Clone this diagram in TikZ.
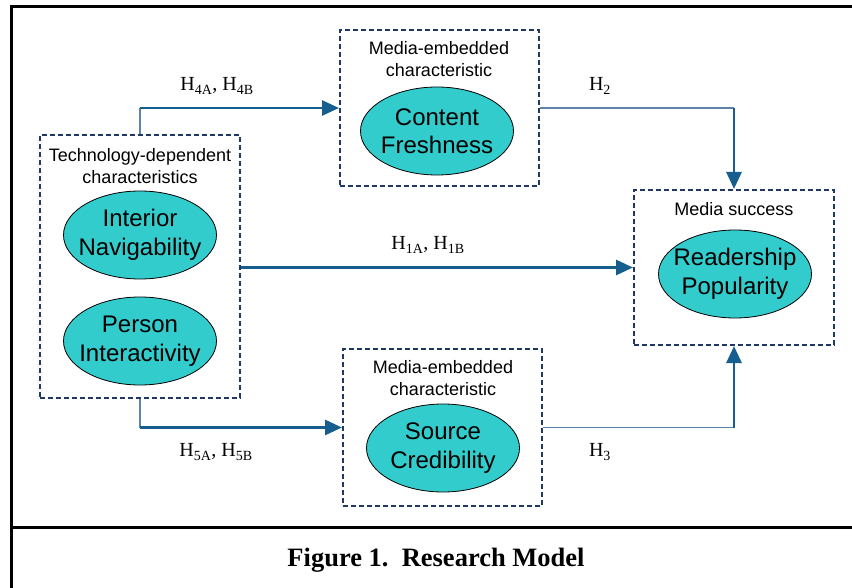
\documentclass[tikz,border=0pt]{standalone}
\usepackage{fontspec}
\setmainfont{Liberation Serif}
\setsansfont{Liberation Sans}
\usetikzlibrary{arrows.meta,positioning,calc,shapes.geometric}
\definecolor{navy}{RGB}{31,56,100}
\definecolor{hypblue}{RGB}{22,94,143}
\definecolor{hypthin}{RGB}{95,130,168}
\definecolor{cyanfill}{RGB}{51,204,204}
\tikzset{
  group/.style={rectangle,draw=navy,line width=2pt,dash pattern=on 5pt off 3pt,inner sep=0pt},
  construct/.style={ellipse,draw=black,line width=0.8pt,fill=cyanfill,minimum width=153pt,minimum height=88pt,
    inner xsep=-20pt,inner ysep=-5pt,align=center,font=\sffamily\fontsize{24}{28.5}\selectfont},
  grouplbl/.style={align=center,font=\sffamily\fontsize{18}{22}\selectfont},
  hyp/.style={font=\fontsize{20}{24}\selectfont},
  arr/.style={draw=hypblue,line width=2.8pt,-{Triangle[length=17pt,width=15pt]}},
  thin/.style={draw=hypthin,line width=1.5pt},
}

\begin{document}
\begin{tikzpicture}[x=1pt,y=-1pt]
\useasboundingbox (0,0) rectangle (852,588);
% frame and caption
\draw[line width=3pt] (11,590) -- (11,7) -- (855,7);
\draw[line width=3pt] (11,527) -- (855,527);
\node[font=\bfseries\fontsize{26.5}{30}\selectfont] (caption) at (436,560) {Figure 1.\ \ Research Model};

% groups
\node[group,minimum width=200pt,minimum height=263pt] (tech) at (140,266.5) {};
\node[group,minimum width=199pt,minimum height=156pt] (content) at (439.5,108) {};
\node[group,minimum width=199pt,minimum height=157pt] (source) at (442.5,427.5) {};
\node[group,minimum width=200pt,minimum height=155pt] (success) at (734,267.5) {};

\node[grouplbl] (techlbl) at (140,166) {Technology-dependent\\characteristics};
\node[grouplbl] (contentlbl) at (439,59) {Media-embedded\\characteristic};
\node[grouplbl] (sourcelbl) at (443,378) {Media-embedded\\characteristic};
\node[grouplbl] (successlbl) at (734,209) {Media success};

% constructs
\node[construct] (nav) at (140,235) {Interior\\Navigability};
\node[construct] (inter) at (140,341) {Person\\Interactivity};
\node[construct] (fresh) at (437,131) {Content\\Freshness};
\node[construct] (cred) at (443,448) {Source\\Credibility};
\node[construct] (pop) at (735,274) {Readership\\Popularity};

% paths
\coordinate (h4turn) at (tech.north |- content.west);
\draw[thin] (tech.north) -- (h4turn);
\draw[arr] (h4turn) -- (content.west);

\coordinate (h5turn) at (tech.south |- source.west);
\draw[thin] (tech.south) -- (h5turn);
\draw[arr] (h5turn) -- (source.west);

\draw[arr] (tech.east |- success.west) -- (success.west);

\coordinate (h2turn) at (content.east -| success.north);
\draw[thin] (content.east) -- (h2turn);
\draw[arr] (h2turn) -- (success.north);

\coordinate (h3turn) at (source.east -| success.south);
\draw[thin] (source.east) -- (h3turn);
\draw[arr] (h3turn) -- (success.south);

% hypothesis labels
\node[hyp] (h4) at (217,86) {H\textsubscript{4A}, H\textsubscript{4B}};
\node[hyp] (h1) at (428,245) {H\textsubscript{1A}, H\textsubscript{1B}};
\node[hyp] (h5) at (216,452) {H\textsubscript{5A}, H\textsubscript{5B}};
\node[hyp] (h2) at (600,86) {H\textsubscript{2}};
\node[hyp] (h3) at (600,452) {H\textsubscript{3}};
\end{tikzpicture}
\end{document}
